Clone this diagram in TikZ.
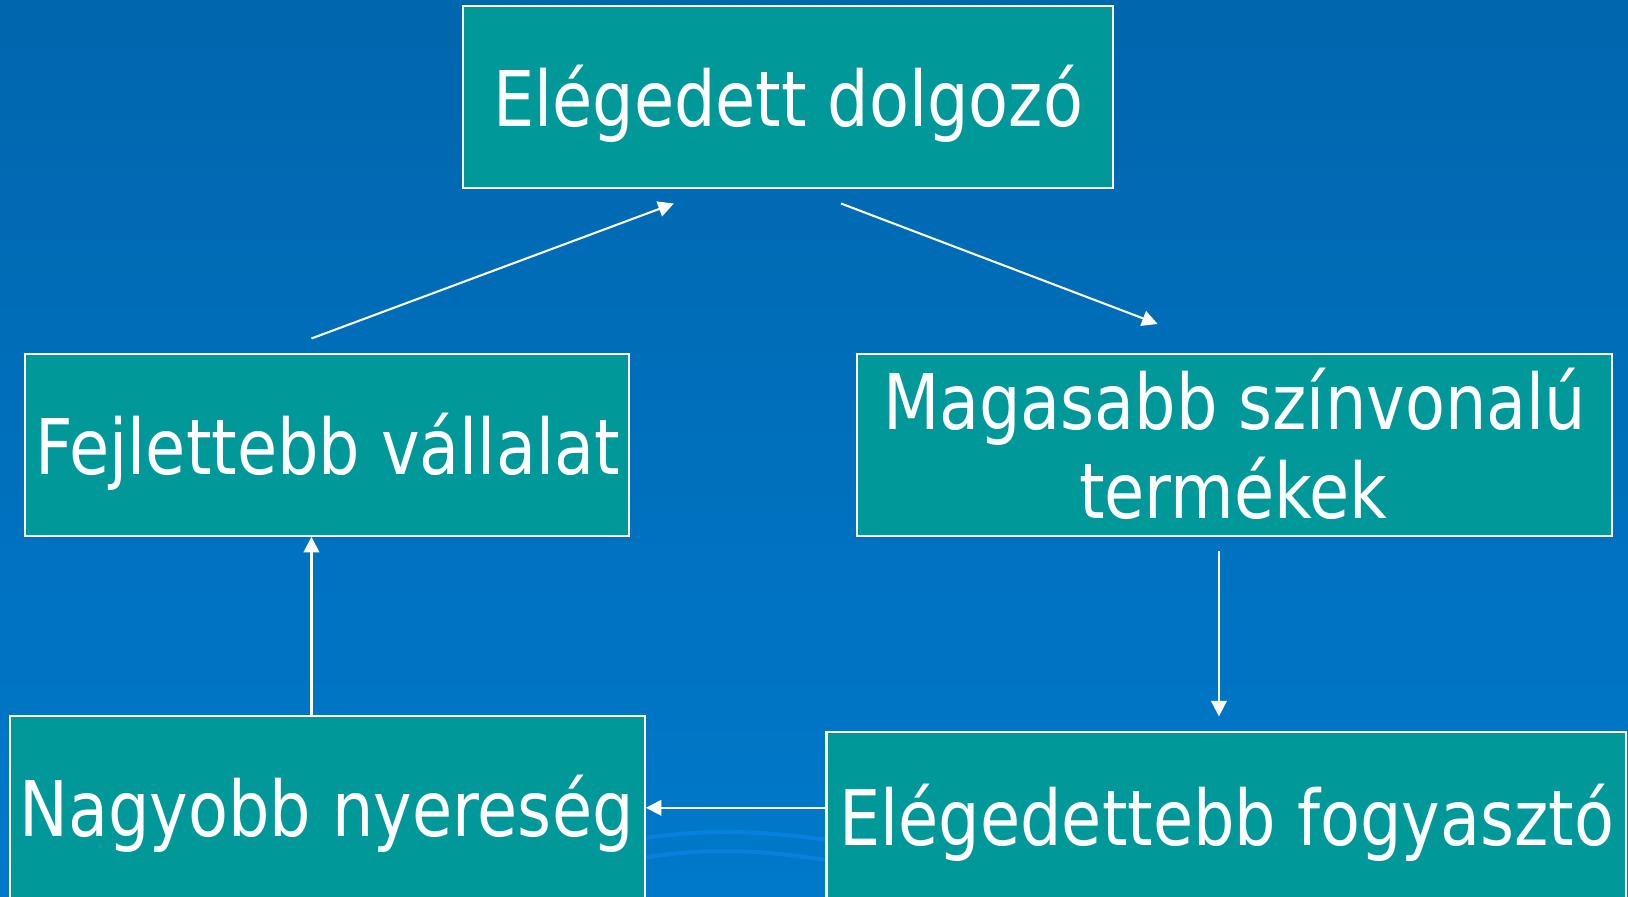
\documentclass[tikz,border=0pt]{standalone}
\usepackage{fontspec}
\setmainfont{DejaVu Sans}[FakeStretch=0.85]
\usetikzlibrary{arrows.meta,calc}
\definecolor{bgtop}{HTML}{0066AE}
\definecolor{bgbot}{HTML}{0079CA}
\definecolor{boxfill}{HTML}{009898}
\definecolor{swoosh}{HTML}{0681DC}
\begin{document}
\begin{tikzpicture}[x=0.5pt,y=-0.5pt,
  box/.style={draw=white,line width=1pt,fill=boxfill,rectangle,inner sep=0pt},
  txt/.style={text=white,inner sep=0pt,anchor=base,font=\fontsize{37pt}{44pt}\selectfont},
  conn/.style={draw=white,line width=1pt,-{Triangle[length=7.5pt,width=7.5pt]}}]
\clip (0,0) rectangle (1568,863);
\shade[top color=bgtop,bottom color=bgbot] (0,0) rectangle (1568,863);
% background swooshes
\draw[swoosh,line width=2pt] (600,810) .. controls (680,798) and (720,798) .. (820,812);
\draw[swoosh,line width=2pt] (600,829) .. controls (680,816) and (720,816) .. (820,832);
% boxes
\node[box,minimum width=313pt,minimum height=87.5pt] (top) at (759,93.5) {};
\node[box,minimum width=291pt,minimum height=87.5pt] (left) at (315,428.5) {};
\node[box,minimum width=364pt,minimum height=87.5pt] (right) at (1189,428.5) {};
\node[box,minimum width=305.5pt,minimum height=105pt] (bl) at (315.5,795) {};
\node[box,minimum width=385pt,minimum height=97.5pt] (br) at (1181,802.5) {};
% texts
\node[txt] (toptxt) at (759,122) {Elégedett dolgozó};
\node[txt] (lefttxt) at (315.5,457) {Fejlettebb vállalat};
\node[txt] (righttxt1) at (1189,414) {Magasabb színvonalú};
\node[txt] (righttxt2) at (1188,499) {termékek};
\node[txt] (bltxt) at (314.5,806) {Nagyobb nyereség};
\node[txt] (brtxt) at (1181.5,814) {Elégedettebb fogyasztó};
% free connector ends
\coordinate (a1s) at (300,326);
\coordinate (a1e) at (649,196);
\coordinate (a2s) at (810,196);
\coordinate (a2e) at (1115,312);
\coordinate (a3s) at (1174,531);
\coordinate (a3e) at (1174,690);
\coordinate (vx) at (300,0);
\coordinate (hy) at (0,778);
% connectors
\draw[conn] (a1s) -- (a1e);
\draw[conn] (a2s) -- (a2e);
\draw[conn] (a3s) -- (a3e);
\draw[conn] (br.west |- hy) -- (bl.east |- hy);
\draw[conn] (bl.north -| vx) -- (left.south -| vx);
\end{tikzpicture}
\end{document}
